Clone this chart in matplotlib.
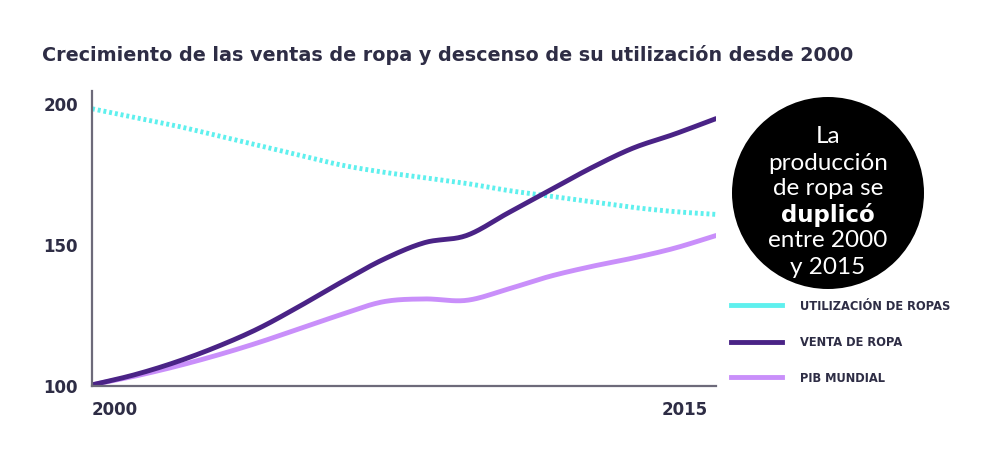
import numpy as np
import matplotlib.pyplot as plt
from matplotlib.lines import Line2D
from matplotlib.patches import Ellipse

# Datos (índice 2000 = 100)
years = list(range(2000, 2016))
utilizacion = [198, 195, 192, 188.5, 185, 181.5, 178, 175.5, 173.5, 171.5, 169, 167, 165, 163, 161.5, 160.5]
venta = [100, 103.5, 108, 113.5, 120, 128, 136.5, 144.5, 150.5, 153, 161, 169, 177, 184, 189, 194.5]
pib = [100, 103, 106.5, 110.5, 115, 120, 125, 129.5, 130.5, 130, 134, 138.5, 142, 145, 148.5, 153]

labels = ["UTILIZACIÓN DE ROPAS", "VENTA DE ROPA", "PIB MUNDIAL"]
colors = ["#5ff0ee", "#4a2386", "#c98ffa"]
yticks = [100, 150, 200]
text_color = "#2e2d45"

plt.rcParams['font.family'] = ['DejaVu Sans']


# curva suave (Catmull-Rom) entre los puntos leídos
def smooth(x, y, n=20):
    x = np.asarray(x, float)
    y = np.asarray(y, float)
    px = np.concatenate([[2 * x[0] - x[1]], x, [2 * x[-1] - x[-2]]])
    py = np.concatenate([[2 * y[0] - y[1]], y, [2 * y[-1] - y[-2]]])
    xs, ys = [], []
    t = np.linspace(0, 1, n, endpoint=False)
    for i in range(1, len(px) - 2):
        for arr, out in ((px, xs), (py, ys)):
            p0, p1, p2, p3 = arr[i - 1], arr[i], arr[i + 1], arr[i + 2]
            out.extend(0.5 * (2 * p1 + (-p0 + p2) * t + (2 * p0 - 5 * p1 + 4 * p2 - p3) * t ** 2
                              + (-p0 + 3 * p1 - 3 * p2 + p3) * t ** 3))
    xs.append(x[-1])
    ys.append(y[-1])
    return np.array(xs), np.array(ys)


fig = plt.figure(figsize=(9.96, 4.6), dpi=100)
ax = fig.add_axes([92 / 996, 1 - 387 / 460, (716 - 92) / 996, (387 - 92) / 460])

x, y = smooth(years, utilizacion)
ax.plot(x, y, color=colors[0], lw=3.5, linestyle=(0, (0.6, 0.6)), solid_capstyle='butt')
x, y = smooth(years, pib)
ax.plot(x, y, color=colors[2], lw=3.5, solid_capstyle='round')
x, y = smooth(years, venta)
ax.plot(x, y, color=colors[1], lw=3.5, solid_capstyle='round')

ax.set_xlim(2000, 2015)
ax.set_ylim(99.6, 204.3)
ax.set_yticks(yticks)
ax.set_yticklabels([str(v) for v in yticks], fontsize=12, fontweight='bold', color=text_color)
ax.set_xticks([])
ax.tick_params(axis='y', length=0, pad=10)
for s in ['top', 'right']:
    ax.spines[s].set_visible(False)
for s in ['left', 'bottom']:
    ax.spines[s].set_color('#6d6a7a')
    ax.spines[s].set_linewidth(1.6)

fig.text(92 / 996, 1 - 410 / 460, "2000", fontsize=12, fontweight='bold', color=text_color, ha='left', va='center')
fig.text(708 / 996, 1 - 410 / 460, "2015", fontsize=12, fontweight='bold', color=text_color, ha='right', va='center')

fig.text(42 / 996, 1 - 55 / 460, "Crecimiento de las ventas de ropa y descenso de su utilización desde 2000",
         fontsize=13.8, fontweight='bold', color=text_color, ha='left', va='center')

# círculo con el mensaje
circle = Ellipse((828 / 996, 1 - 194 / 460), 192 / 996, 192 / 460, transform=fig.transFigure,
                 facecolor='black', edgecolor='none')
fig.patches.append(circle)
lines = [("La", 'normal'), ("producción", 'normal'), ("de ropa se", 'normal'),
         ("duplicó", 'bold'), ("entre 2000", 'normal'), ("y 2015", 'normal')]
for i, (txt, w) in enumerate(lines):
    fig.text(828 / 996, 1 - (137 + i * 26) / 460, txt, fontsize=17.5 if w == 'normal' else 16.5,
             fontweight=w,
             family=['Lato', 'DejaVu Sans'] if w == 'normal' else ['DejaVu Sans'],
             color='white', ha='center', va='center')

# leyenda manual
for i, (lab, c) in enumerate(zip(labels, colors)):
    yy = 1 - [306, 343, 378][i] / 460
    fig.add_artist(Line2D([731 / 996, 782 / 996], [yy, yy], color=c, lw=3.5, transform=fig.transFigure))
    fig.text(800 / 996, yy, lab, fontsize=8.3, fontweight='bold', color=text_color, ha='left', va='center')

fig.savefig("out.png", dpi=100)
